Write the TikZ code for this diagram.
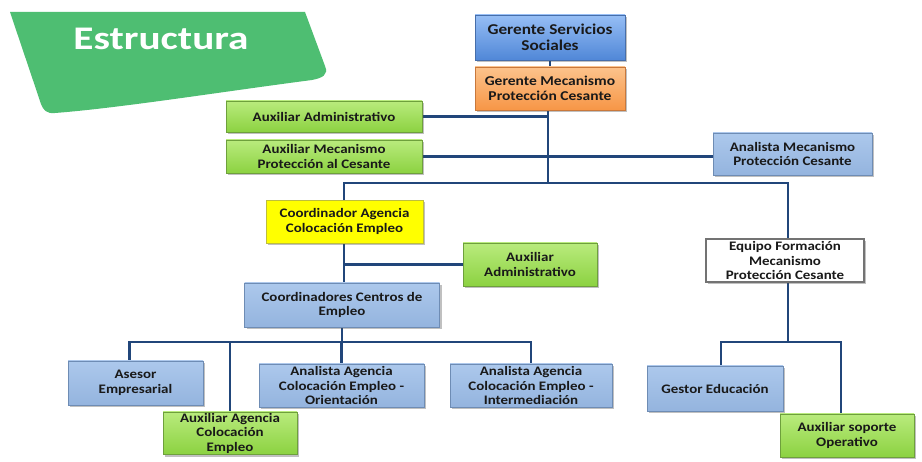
\documentclass[tikz,border=0pt]{standalone}
\usepackage{fontspec}
\setmainfont{Carlito}
\newfontfamily\boxfont{Carlito}[FakeStretch=1.15]
\newfontfamily\titlefont{Carlito}[FakeStretch=1.25]
\usetikzlibrary{shadows,backgrounds}
\definecolor{conn}{RGB}{33,70,122}
\definecolor{titlegreen}{RGB}{78,190,114}
\tikzset{
  boxbase/.style={draw=black!30, line width=0.6pt, align=center, inner sep=1pt,
    font=\boxfont\bfseries\fontsize{13}{14.5}\selectfont, text=black!90,
    drop shadow={shadow xshift=2pt, shadow yshift=-2.5pt, opacity=0.35, fill=black!70}},
  bluebox/.style={boxbase, top color={rgb,255:red,150;green,190;blue,245}, bottom color={rgb,255:red,80;green,135;blue,215}, draw={rgb,255:red,70;green,110;blue,170}},
  orangebox/.style={boxbase, top color={rgb,255:red,252;green,195;blue,140}, bottom color={rgb,255:red,247;green,150;blue,70}, draw={rgb,255:red,200;green,120;blue,60}},
  greenbox/.style={boxbase, top color={rgb,255:red,185;green,235;blue,125}, bottom color={rgb,255:red,140;green,210;blue,65}, draw={rgb,255:red,110;green,160;blue,60}},
  lbluebox/.style={boxbase, top color={rgb,255:red,172;green,200;blue,236}, bottom color={rgb,255:red,148;green,180;blue,222}, draw={rgb,255:red,110;green,140;blue,180}},
  yellowbox/.style={boxbase, fill={rgb,255:red,255;green,255;blue,0}, draw={rgb,255:red,190;green,190;blue,60}},
  whitebox/.style={boxbase, fill=white, draw=black!55, line width=1.2pt},
  link/.style={draw=conn, line width=2.4pt}
}
\begin{document}
\begin{tikzpicture}[x=1pt,y=-1pt]
\useasboundingbox (0,0) rectangle (922,462);
% title shape
\fill[titlegreen] (10,12) -- (305,12) -- (325,66) .. controls (329,75) and (322,78) .. (312,80)
  .. controls (220,92) and (120,108) .. (55,113) .. controls (47,114) and (43,110) .. (41,104) -- cycle;
\node[text=white, font=\titlefont\bfseries\fontsize{33}{35}\selectfont] (title) at (161,39) {Estructura};

% boxes
\node[bluebox, minimum width=150, minimum height=45, font=\boxfont\bfseries\fontsize{15}{16.5}\selectfont] (gss) at (550,37.5) {Gerente Servicios\\Sociales};
\node[orangebox, minimum width=150, minimum height=43, font=\boxfont\bfseries\fontsize{13.5}{15}\selectfont] (gmp) at (550,88.5) {Gerente Mecanismo\\Protección Cesante};
\node[greenbox, minimum width=196, minimum height=31] (aa1) at (324,116.5) {Auxiliar Administrativo};
\node[greenbox, minimum width=196, minimum height=33] (amp) at (324,156.5) {Auxiliar Mecanismo\\Protección al Cesante};
\node[lbluebox, minimum width=159, minimum height=42] (amc) at (792.5,154) {Analista Mecanismo\\Protección Cesante};
\node[yellowbox, minimum width=157, minimum height=43] (cac) at (344.5,221.5) {Coordinador Agencia\\Colocación Empleo};
\node[greenbox, minimum width=134, minimum height=43] (aa2) at (530,264.5) {Auxiliar\\Administrativo};
\node[lbluebox, minimum width=195, minimum height=44] (cce) at (342,305) {Coordinadores Centros de\\Empleo};
\node[lbluebox, minimum width=135, minimum height=44] (ase) at (135.5,383) {Asesor\\Empresarial};
\node[lbluebox, minimum width=165, minimum height=43] (aco) at (341.5,385.5) {Analista Agencia\\Colocación Empleo -\\Orientación};
\node[lbluebox, minimum width=162, minimum height=43] (aci) at (531,385.5) {Analista Agencia\\Colocación Empleo -\\Intermediación};
\node[greenbox, minimum width=134, minimum height=40] (aac) at (230,433) {Auxiliar Agencia\\Colocación\\Empleo};
\node[whitebox, minimum width=158, minimum height=43] (efm) at (785,260.5) {Equipo Formación\\Mecanismo\\Protección Cesante};
\node[lbluebox, minimum width=136, minimum height=45] (ged) at (715,388.5) {Gestor Educación};
\node[greenbox, minimum width=134, minimum height=43] (aso) at (847,435.5) {Auxiliar soporte\\Operativo};

\coordinate (j1) at (548,183);
\coordinate (j2) at (342,342);
\coordinate (j3) at (788,342);

\begin{scope}[on background layer]
\fill[white] (0,0) rectangle (922,462);
\draw[link] (gss.south) -- (gmp.north);
\draw[link] (gmp.south -| j1) -- (j1);
\draw[link] (aa1.east) -- (aa1.east -| j1);
\draw[link] (amp.east) -- (amp.east -| amc.west);
\draw[link] (cac.north -| 344,0) |- (j1) -| (efm.north -| j3);
\draw[link] (cac.south -| 344,0) -- (cce.north -| 344,0);
\draw[link] (aa2.west) -- (aa2.west -| 344,0);
\draw[link] (cce.south) -- (j2);
\draw[link] ([xshift=-6pt]ase.north) |- (j2) -| (aci.north);
\draw[link] (aac.north) -- (aac.north |- j2);
\draw[link] (aco.north) -- (aco.north |- j2);
\draw[link] (efm.south -| j3) -- (j3);
\draw[link] ([xshift=6pt]ged.north) |- (j3) -| ([xshift=-6pt]aso.north);
\end{scope}
\end{tikzpicture}
\end{document}
